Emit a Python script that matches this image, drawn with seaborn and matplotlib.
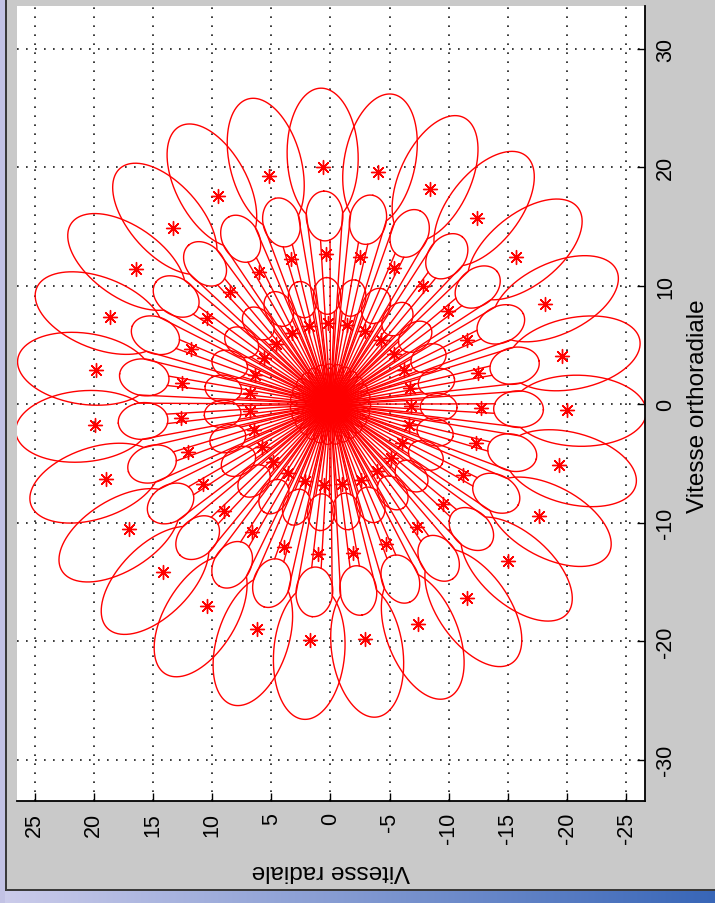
import numpy as np
import pandas as pd
import matplotlib
matplotlib.use("Agg")
import matplotlib.pyplot as plt
import seaborn as sns
from matplotlib.patches import Rectangle

# Directions of the 27 launch rays (degrees, from the orthoradial axis toward +radial)
ray_angles = [1.8, 15.1, 28.5, 41.8, 55.1, 68.5, 81.8, 95.1, 108.5, 121.8,
              135.1, 148.5, 161.8, 175.1, 188.5, 201.8, 215.1, 228.5, 241.8,
              255.1, 268.5, 281.8, 295.1, 308.5, 321.8, 335.1, 348.5]
# Speeds of the starting points on each ray
star_speeds = [6.85, 12.7, 20.0]

# Outer balloon of every ray: oval part plus the cone that joins it to the origin
outer_center = 21.0
outer_semi_along = 5.7
outer_semi_across = 3.0
outer_cone_slope = 0.095

# Inner loops of every ray (middle and small): oval plus two stems to the origin
loop_center = [15.9, 9.15]
loop_semi_along = [2.1, 1.55]
loop_semi_across = [1.55, 1.15]
loop_stem_join_deg = [165.0, 150.0]

# Small petals packed round the origin
core_length = 3.4
core_halfwidth = 0.55

radial_ticks = [25, 20, 15, 10, 5, 0, -5, -10, -15, -20, -25]
ortho_ticks = [-30, -20, -10, 0, 10, 20, 30]


def ellipse(c, a, b, s):
    return c + a * np.cos(s), b * np.sin(s)


def balloon(c, a, b, k):
    s = np.linspace(0, np.pi, 4000)
    r, h = ellipse(c, a, b, s)
    sx = s[np.argmin(np.abs(h - k * r))]
    arc = np.linspace(sx, -sx, 300)
    ra, ha = ellipse(c, a, b, arc)
    along = np.concatenate([[0.0], ra, [0.0]])
    across = np.concatenate([[0.0], ha, [0.0]])
    return along, across


def drop(length, hw, n=200):
    t = np.linspace(0, 2 * np.pi, n)
    p = 1.8
    u = (1 - np.cos(t)) / 2
    um = p / (p + 0.5)
    c = hw / (um ** p * np.sqrt(1 - um))
    return length * u, c * np.sin(t / 2) ** (2 * p) * np.cos(t / 2)


shapes = [balloon(outer_center, outer_semi_along, outer_semi_across, outer_cone_slope)]
for c, a, b, j in zip(loop_center, loop_semi_along, loop_semi_across, loop_stem_join_deg):
    shapes.append(ellipse(c, a, b, np.linspace(0, 2 * np.pi, 200)))
    js = np.deg2rad(j)
    for sgn in (1, -1):
        rj, hj = ellipse(c, a, b, sgn * js)
        shapes.append((np.array([0.0, rj]), np.array([0.0, hj])))
shapes.append(drop(core_length, core_halfwidth))

rows = []
cid = 0
for along, across in shapes:
    for ang in ray_angles:
        phi = np.deg2rad(ang)
        rad = along * np.sin(phi) + across * np.cos(phi)
        ort = along * np.cos(phi) - across * np.sin(phi)
        rows.append(pd.DataFrame({"radial": rad, "ortho": ort, "curve": cid}))
        cid += 1
curves = pd.concat(rows, ignore_index=True)

stars = pd.DataFrame([
    {"radial": v * np.sin(np.deg2rad(a)), "ortho": v * np.cos(np.deg2rad(a))}
    for v in star_speeds for a in ray_angles
])

plt.rcParams["font.family"] = ["Liberation Sans", "DejaVu Sans"]
plt.rcParams["axes.unicode_minus"] = False

fig = plt.figure(figsize=(7.15, 9.04), dpi=100)
fig.patch.set_facecolor("#c9c9c9")

ax = fig.add_axes([16.9 / 715, 1 - 802 / 904, (645.2 - 16.9) / 715, (802 - 7.3) / 904])
ax.set_facecolor("white")

sns.lineplot(data=curves, x="radial", y="ortho", units="curve", estimator=None,
             sort=False, color="#ff0000", linewidth=1.0, ax=ax, legend=False)
sns.scatterplot(data=stars, x="radial", y="ortho", marker=(8, 2, 0), s=100,
                color="#ff0000", edgecolor="#ff0000", linewidth=1.0, ax=ax,
                legend=False, zorder=3)

ax.set_xlim(26.5, -26.6)
ax.set_ylim(-33.5, 33.6)
ax.set_xticks(radial_ticks)
ax.set_yticks(ortho_ticks)
ax.set_xticklabels([str(v) for v in radial_ticks])
ax.set_yticklabels([str(v) for v in ortho_ticks])
ax.set_xlabel("")
ax.set_ylabel("")

ax.grid(True, color="#1a1a1a", linestyle=(0, (1.0, 4.4)), linewidth=1.2)
ax.set_axisbelow("line")

for side in ["top", "left"]:
    ax.spines[side].set_visible(False)
for side in ["bottom", "right"]:
    ax.spines[side].set_color("black")
    ax.spines[side].set_linewidth(1.3)

ax.yaxis.tick_right()
ax.tick_params(axis="x", direction="in", length=6, width=1, bottom=True, top=False,
               labelsize=15.5, labelrotation=90, pad=8)
ax.tick_params(axis="y", direction="in", length=6, width=1, right=True, left=False,
               labelright=True, labelleft=False, labelsize=15.5, labelrotation=90, pad=7)
for lab in ax.get_yticklabels():
    lab.set_va("center")

fig.text(331 / 715, 1 - 871 / 904, "Vitesse radiale", rotation=180,
         ha="center", va="center", fontsize=17.5)
fig.text(698 / 715, 1 - 406 / 904, "Vitesse orthoradiale", rotation=90,
         ha="center", va="center", fontsize=17.5)

# window frame: lavender edge, dark border and blue gradient strip
fig.add_artist(Rectangle((0, 0), 4.8 / 715, 1, transform=fig.transFigure,
                         facecolor="#c2c2e4", edgecolor="none"))
fig.add_artist(Rectangle((4.8 / 715, 13 / 904), 1.8 / 715, 1, transform=fig.transFigure,
                         facecolor="#3a3a3a", edgecolor="none"))
fig.add_artist(Rectangle((4.8 / 715, 12 / 904), 1, 2 / 904, transform=fig.transFigure,
                         facecolor="#3a3a3a", edgecolor="none"))
gax = fig.add_axes([0, 0, 1, 12 / 904])
grad = np.linspace(0, 1, 256)
c0 = np.array([0.80, 0.80, 0.92])
c1 = np.array([0.22, 0.40, 0.72])
img = (c0[None, :] * (1 - grad[:, None]) + c1[None, :] * grad[:, None])[None, :, :]
gax.imshow(img, aspect="auto", extent=[0, 1, 0, 1])
gax.axis("off")

fig.savefig("out.png", dpi=100, facecolor=fig.get_facecolor())
